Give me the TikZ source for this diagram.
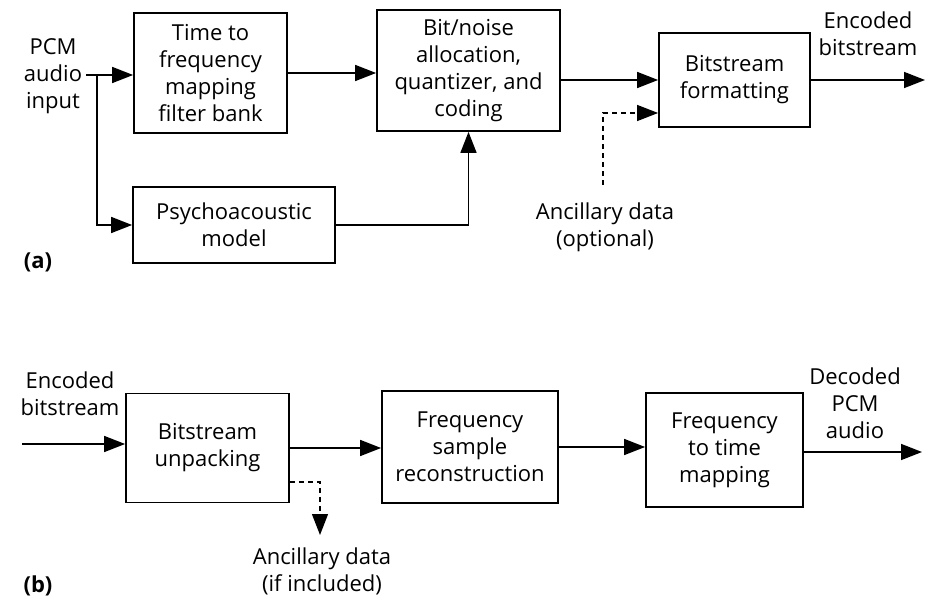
\documentclass[tikz,border=0pt]{standalone}
\usepackage{fontspec}
\setmainfont{Open Sans}
\usepackage{tikz}
\usetikzlibrary{calc,arrows.meta}

\begin{document}
\begin{tikzpicture}[x=1pt,y=-1pt,
  every node/.style={font=\fontsize{22}{27}\selectfont, align=center},
  blk/.style={draw=black, line width=1.8pt, inner sep=0pt},
  lbl/.style={inner sep=4pt},
  flow/.style={line width=1.6pt, -{Triangle[length=21pt,width=16pt]}},
  dflow/.style={line width=1.3pt, dashed, dash pattern=on 5pt off 4pt, -{Triangle[length=21pt,width=16pt]}}]
\useasboundingbox (0,0) rectangle (931,601);

% (a) encoder
\coordinate (split) at (97,75);
\coordinate (out1) at (925,80);
\coordinate (a1) at (603,185);

\node[blk, minimum width=153pt, minimum height=120pt] (tf) at (210.5,73) {Time to\\frequency\\mapping\\filter bank};
\node[blk, minimum width=183pt, minimum height=121pt] (bna) at (468.5,70.5) {Bit/noise\\allocation,\\quantizer, and\\coding};
\node[blk, minimum width=151pt, minimum height=94pt] (bsf) at (734.5,80) {Bitstream\\formatting};
\node[blk, minimum width=202pt, minimum height=76pt] (psy) at (234,225) {Psychoacoustic\\model};

\node[lbl] (pcm) at (53,76) {PCM\\audio\\input};
\node[lbl] (enc1) at (868,34) {Encoded\\bitstream};
\node[lbl] (anc1) at (605,227) {Ancillary data\\(optional)};
\node[lbl, font=\fontsize{22}{27}\selectfont\bfseries] (la) at (38,262) {(a)};

\draw[flow] (pcm.east |- split) -- (split -| tf.west);
\draw[flow] (split) |- (psy.west);
\draw[flow] (tf.east) -- (tf.east -| bna.west);
\draw[flow] (psy.east) -| (bna.south);
\draw[flow] (bna.east |- bsf) -- (bsf.west);
\draw[flow] (bsf.east) -- (out1);
\draw[dflow] (a1) |- ($(bsf.west)+(0,33)$);

% (b) decoder
\coordinate (in2) at (22,444);
\coordinate (out2) at (922,452);
\coordinate (a2) at (320,535);

\node[blk, minimum width=163pt, minimum height=109pt] (bsu) at (207.5,448) {Bitstream\\unpacking};
\node[blk, minimum width=176pt, minimum height=112pt] (fsr) at (470,447) {Frequency\\sample\\reconstruction};
\node[blk, minimum width=157pt, minimum height=114pt] (ftm) at (724.5,450) {Frequency\\to time\\mapping};

\node[lbl] (enc2) at (70,394) {Encoded\\bitstream};
\node[lbl] (dec) at (855,403) {Decoded\\PCM\\audio};
\node[lbl] (anc2) at (322,571) {Ancillary data\\(if included)};
\node[lbl, font=\fontsize{22}{27}\selectfont\bfseries] (lb) at (38,586) {(b)};

\draw[flow] (in2) -- (in2 -| bsu.west);
\draw[flow] (bsu.east) -- (bsu.east -| fsr.west);
\draw[flow] (fsr.east) -- (fsr.east -| ftm.west);
\draw[flow] (ftm.east |- out2) -- (out2);
\draw[dflow] ($(bsu.east)+(0,34)$) -| (a2);
\end{tikzpicture}
\end{document}
